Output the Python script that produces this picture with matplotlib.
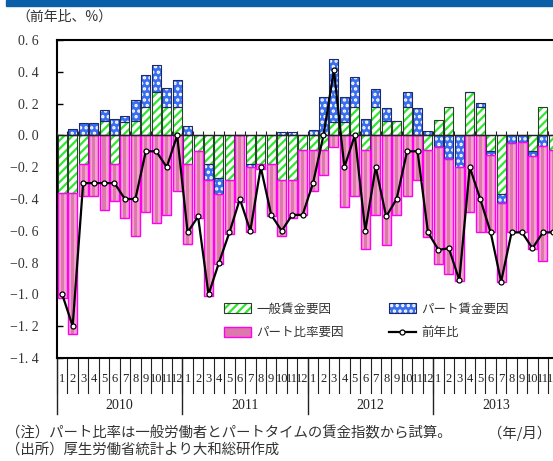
import numpy as np
import matplotlib
matplotlib.use('Agg')
import matplotlib.pyplot as plt
from matplotlib.patches import Patch, Rectangle
from matplotlib.lines import Line2D
from matplotlib.transforms import blended_transform_factory

plt.rcParams['hatch.linewidth'] = 1.6

JP = ['Noto Sans CJK JP', 'DejaVu Sans']
SERIF = ['Liberation Serif', 'DejaVu Serif']

# ---- data (monthly, Jan 2010 - Dec 2013) ----
years = ['2010', '2011', '2012', '2013']
months = [str(m) for m in range(1, 13)] * 4

general = [-0.36, -0.36, -0.18, 0.00, 0.09, -0.18, 0.085, 0.09, 0.18, 0.275, 0.18, 0.18,
           -0.18, -0.10, -0.18, -0.27, -0.28, 0.00, -0.18, -0.18, -0.18, -0.28, -0.28, -0.09,
           -0.09, -0.09, 0.085, 0.085, 0.18, -0.09, 0.18, 0.09, 0.09, 0.18, 0.00, -0.09,
           0.095, 0.18, 0.00, 0.27, 0.18, -0.095, -0.37, 0.00, 0.00, -0.095, 0.18, -0.09]
part = [0.00, 0.04, 0.08, 0.08, 0.07, 0.105, 0.035, 0.135, 0.20, 0.165, 0.12, 0.17,
        0.06, 0.00, -0.10, -0.10, 0.00, 0.00, -0.02, 0.00, 0.00, 0.02, 0.02, 0.00,
        0.035, 0.24, 0.395, 0.155, 0.19, 0.105, 0.11, 0.085, 0.00, 0.09, 0.175, 0.025,
        -0.07, -0.15, -0.20, 0.00, 0.025, -0.03, -0.055, -0.05, -0.04, -0.035, -0.065, 0.00]
ratio = [-0.66, -0.89, -0.20, -0.38, -0.47, -0.23, -0.52, -0.63, -0.48, -0.55, -0.50, -0.35,
         -0.50, -0.42, -0.73, -0.44, -0.34, -0.42, -0.41, -0.03, -0.33, -0.35, -0.24, -0.41,
         -0.26, -0.16, -0.075, -0.45, -0.38, -0.625, -0.50, -0.69, -0.50, -0.38, -0.28, -0.55,
         -0.74, -0.72, -0.715, -0.48, -0.61, -0.485, -0.50, -0.56, -0.57, -0.585, -0.725, -0.51]
yoy = [-1.00, -1.20, -0.30, -0.30, -0.30, -0.30, -0.40, -0.40, -0.10, -0.10, -0.20, 0.00,
       -0.61, -0.51, -1.00, -0.80, -0.61, -0.40, -0.60, -0.20, -0.50, -0.60, -0.50, -0.50,
       -0.30, 0.00, 0.41, -0.20, 0.00, -0.60, -0.20, -0.51, -0.40, -0.10, -0.10, -0.61,
       -0.72, -0.71, -0.91, -0.20, -0.40, -0.61, -0.92, -0.61, -0.61, -0.71, -0.61, -0.61]

labels = ['一般賃金要因', 'パート賃金要因', 'パート比率要因', '前年比']

# colours
GREEN = '#2ee82e'
GREEN_EDGE = '#2b3d2b'
BLUE = '#3a6ef0'
BLUE_EDGE = '#1c2a66'
PINK = '#f2a2cd'
PINK_DARK = '#dc78ac'
MAGENTA = '#ff00f0'

fig = plt.figure(figsize=(5.53, 4.61), dpi=100)
ax = fig.add_axes([57 / 553, 103 / 461, 501.6 / 553, 318 / 461])

x = np.arange(len(yoy))
w = 0.86

pos_bottom = np.zeros(len(x))
neg_bottom = np.zeros(len(x))


def stack(vals):
    vals = np.array(vals)
    bottom = np.where(vals >= 0, pos_bottom, neg_bottom)
    pos_bottom[:] += np.where(vals >= 0, vals, 0)
    neg_bottom[:] += np.where(vals < 0, vals, 0)
    return vals, bottom


# general wage factor: green diagonal stripes
g, gb = stack(general)
ax.bar(x, g, w, bottom=gb, facecolor='white', edgecolor=GREEN, hatch='////', linewidth=0, zorder=2)
ax.bar(x, g, w, bottom=gb, fill=False, edgecolor=GREEN_EDGE, linewidth=0.8, zorder=3)

# part-time wage factor: blue with white dots
p, pb = stack(part)
ax.bar(x, p, w, bottom=pb, facecolor=BLUE, edgecolor='white', hatch='...', linewidth=0, zorder=2)
ax.bar(x, p, w, bottom=pb, fill=False, edgecolor=BLUE_EDGE, linewidth=0.8, zorder=3)

# part-time ratio factor: pink "cylinder"
r, rb = stack(ratio)
ax.bar(x, r, w, bottom=rb, facecolor=PINK, linewidth=0, zorder=2)
ax.bar(x, r, w * 0.35, bottom=rb, facecolor=PINK_DARK, linewidth=0, zorder=2)
ax.bar(x, r, w, bottom=rb, fill=False, edgecolor=MAGENTA, linewidth=1.0, zorder=3)

# year-on-year line
ax.plot(x, yoy, color='black', lw=1.6, marker='o', ms=3.6, mfc='white', mec='black', mew=0.9, zorder=5)

# zero line with small month ticks
ax.axhline(0, color='#222222', lw=1.0, zorder=4)
bounds = np.arange(len(x) + 1) - 0.5
ax.vlines(bounds, 0, 0.025, color='#222222', lw=0.8, zorder=4)

ax.set_xlim(-0.5, len(x) - 0.5)
ax.set_ylim(-1.4, 0.6)
ax.set_xticks([])
yt = np.round(np.arange(-1.4, 0.61, 0.2), 1)
ax.set_yticks(yt)
ax.set_yticklabels([f'{v:.1f}'.replace('.', '. ').replace('-', '−') if abs(v) > 1e-9 else '0. 0' for v in yt],
                   fontfamily=SERIF, fontsize=10, color='#333333')
ax.tick_params(axis='y', direction='in', length=4, width=1, pad=13)
for s in ax.spines.values():
    s.set_linewidth(1.5)
ax.spines['right'].set_visible(False)

# month / year table below the axes
tr = blended_transform_factory(ax.transData, ax.transAxes)
for i, m in enumerate(months):
    ax.text(x[i], -0.066, m, transform=tr, ha='center', va='center',
            fontfamily=SERIF, fontsize=9, color='#222222', clip_on=False)
for b in bounds:
    ax.plot([b, b], [0, -0.11], transform=tr, color='#222222', lw=0.8, clip_on=False)
for k, yr in enumerate(years):
    b = bounds[k * 12]
    ax.plot([b, b], [0, -0.176], transform=tr, color='#222222', lw=1.0, clip_on=False)
    ax.text(k * 12 + 5.5, -0.148, yr, transform=tr, ha='center', va='center',
            fontfamily=SERIF, fontsize=10, color='#222222', clip_on=False)

# legend
h_green = (Patch(facecolor='white', edgecolor=GREEN, hatch='////', linewidth=0),
           Patch(fill=False, edgecolor=GREEN_EDGE, linewidth=0.8))
h_blue = (Patch(facecolor=BLUE, edgecolor='white', hatch='...', linewidth=0),
          Patch(fill=False, edgecolor=BLUE_EDGE, linewidth=0.8))
h_pink = Patch(facecolor=PINK_DARK, edgecolor=MAGENTA, linewidth=1.0)
h_line = Line2D([0], [0], color='black', lw=1.6, marker='o', ms=3.6, mfc='white', mec='black', mew=0.9)
leg = ax.legend([h_green, h_pink, h_blue, h_line], [labels[0], labels[2], labels[1], labels[3]],
                ncol=2, loc='upper left', bbox_to_anchor=(0.31, 0.21), frameon=False,
                prop={'family': JP, 'size': 9}, handlelength=2.2, handleheight=0.8,
                columnspacing=3.6, labelspacing=0.85, handletextpad=0.4)
for t in leg.get_texts():
    t.set_color('#333333')

# header band and texts
fig.patches.append(Rectangle((6 / 553, 1 - 6 / 461), 1, 6 / 461, transform=fig.transFigure,
                             color='#0b5ea8', zorder=0))
fig.text(16 / 553, 1 - 17 / 461, '（前年比、%）', fontfamily=JP, fontsize=10, color='#333333',
         ha='left', va='center')
fig.text(6 / 553, 1 - 433 / 461, '（注）パート比率は一般労働者とパートタイムの賃金指数から試算。',
         fontfamily=JP, fontsize=10.4, color='#333333', ha='left', va='center')
fig.text(551 / 553, 1 - 433 / 461, '（年/月）', fontfamily=JP, fontsize=10.4, color='#333333',
         ha='right', va='center')
fig.text(6 / 553, 1 - 451 / 461, '（出所）厚生労働省統計より大和総研作成',
         fontfamily=JP, fontsize=10.4, color='#333333', ha='left', va='center')

fig.savefig('out.png', dpi=100, facecolor='white')
